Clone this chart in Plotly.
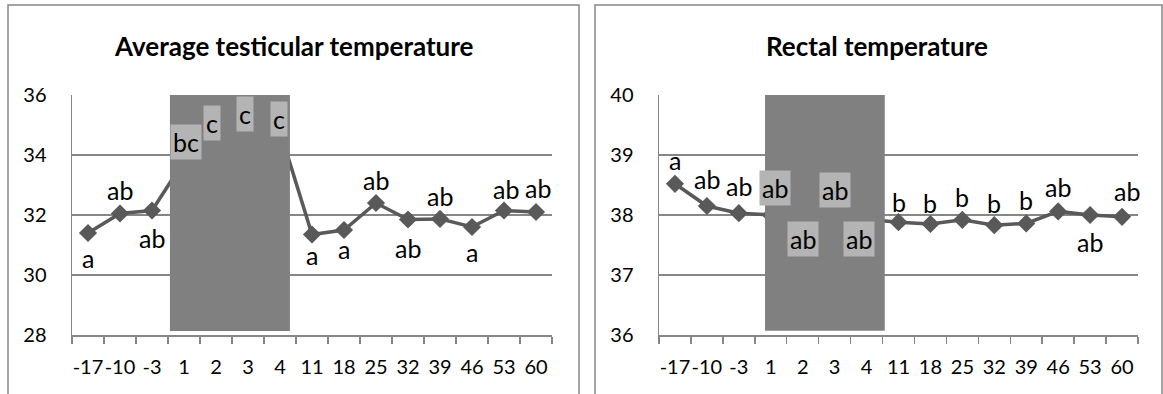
import plotly.graph_objects as go

days = ["-17", "-10", "-3", "1", "2", "3", "4", "11", "18", "25", "32", "39", "46", "53", "60"]

testis = [31.4, 32.05, 32.15, 33.8, 34.6, 34.9, 34.8, 31.35, 31.5, 32.4, 31.85, 31.87, 31.6, 32.15, 32.1]
testis_letters = ["a", "ab", "ab", "bc", "c", "c", "c", "a", "a", "ab", "ab", "ab", "a", "ab", "ab"]

rectal = [38.52, 38.15, 38.03, 38.0, 37.95, 38.05, 37.93, 37.88, 37.85, 37.92, 37.83, 37.86, 38.06, 38.0, 37.97]
rectal_letters = ["a", "ab", "ab", "ab", "ab", "ab", "ab", "b", "b", "b", "b", "b", "ab", "ab", "ab"]

# label placement (style): (xshift, yshift) in px
testis_shift = [(0, -25), (0, 24), (0, -27), (2, 19), (-4, 14), (-3, 14), (-1, 12),
                (0, -20), (0, -19), (0, 23), (0, -28), (0, 23), (0, -25), (2, 22), (2, 24)]
rectal_shift = [(0, 24), (0, 27), (0, 27), (4, 27), (0, -21), (0, 22), (-8, -20),
                (0, 20), (0, 21), (0, 23), (0, 22), (0, 23), (0, 24), (0, -27), (5, 26)]
hidden = [3, 4, 5, 6]

W, H = 1163, 394
FONT = "Lato"
LINE = "#595959"
GRID = "#868686"

idx = list(range(len(days)))

fig = go.Figure()

fig.add_trace(go.Scatter(x=days, y=testis, mode="lines+markers", xaxis="x", yaxis="y",
                         line=dict(color=LINE, width=3.5),
                         marker=dict(symbol="diamond", size=14, color=LINE),
                         showlegend=False, hoverinfo="skip"))
fig.add_trace(go.Scatter(x=days, y=rectal, mode="lines+markers", xaxis="x2", yaxis="y2",
                         line=dict(color=LINE, width=3.5),
                         marker=dict(symbol="diamond", size=14, color=LINE),
                         showlegend=False, hoverinfo="skip"))

def px_x(p):
    return p / W

def px_y(p):
    return 1 - p / H

ydom = [px_y(335), px_y(95)]
xaxis_common = dict(type="category", showgrid=False, showline=True, linecolor=GRID, linewidth=1.5,
                    ticks="outside", tickson="boundaries", ticklen=7, tickcolor=GRID, tickwidth=1.5,
                    tickfont=dict(family=FONT, size=20, color="black"), ticklabelstandoff=13,
                    tickangle=0, automargin=False,
                    range=[-0.5, 14.5], fixedrange=True, zeroline=False)
yaxis_common = dict(showgrid=True, gridcolor=GRID, gridwidth=1.5, showline=True, linecolor=GRID,
                    linewidth=1.5, ticks="", tickfont=dict(family=FONT, size=20, color="black"),
                    ticklabelstandoff=20, zeroline=False, fixedrange=True, automargin=False)

fig.update_layout(
    width=W, height=H, margin=dict(l=0, r=0, t=0, b=0, autoexpand=False),
    paper_bgcolor="white", plot_bgcolor="white",
    xaxis=dict(domain=[px_x(72), px_x(552)], anchor="y", **xaxis_common),
    yaxis=dict(domain=ydom, anchor="x", range=[28, 36], tickvals=[28, 30, 32, 34, 36], **yaxis_common),
    xaxis2=dict(domain=[px_x(659), px_x(1138)], anchor="y2", **xaxis_common),
    yaxis2=dict(domain=ydom, anchor="x2", range=[36, 40], tickvals=[36, 37, 38, 39, 40], **yaxis_common),
)

# heat-stress period blocks
fig.add_shape(type="rect", xref="x", yref="y", x0=2.56, x1=6.31, y0=28.13, y1=36,
              fillcolor="#808080", line=dict(width=0), layer="above")
fig.add_shape(type="rect", xref="x2", yref="y2", x0=2.82, x1=6.57, y0=36.07, y1=40,
              fillcolor="#808080", line=dict(width=0), layer="above")

# chart frames
fig.add_shape(type="rect", xref="paper", yref="paper", x0=px_x(8), x1=px_x(579), y0=-0.1, y1=px_y(5),
              line=dict(color=GRID, width=1.5), fillcolor="rgba(0,0,0,0)", layer="below")
fig.add_shape(type="rect", xref="paper", yref="paper", x0=px_x(595), x1=px_x(1162), y0=-0.1, y1=px_y(5),
              line=dict(color=GRID, width=1.5), fillcolor="rgba(0,0,0,0)", layer="below")

# titles
for title, cx in [("Average testicular temperature", 294), ("Rectal temperature", 877)]:
    fig.add_annotation(text="<b>" + title + "</b>", xref="paper", yref="paper",
                       x=px_x(cx), y=px_y(46), xanchor="center", yanchor="middle", showarrow=False,
                       font=dict(family=FONT, size=26, color="black"))

# significance letters
for series, letters, shifts, xr, yr in [(testis, testis_letters, testis_shift, "x", "y"),
                                         (rectal, rectal_letters, rectal_shift, "x2", "y2")]:
    for i, (v, t) in enumerate(zip(series, letters)):
        dx, dy = shifts[i]
        fig.add_annotation(x=idx[i], y=v, xref=xr, yref=yr, text=t, showarrow=False,
                           xanchor="center", yanchor="middle",
                           xshift=dx, yshift=dy,
                           font=dict(family=FONT, size=25, color="black"),
                           bgcolor="#b4b4b4" if i in hidden else "rgba(0,0,0,0)",
                           borderpad=2 if i in hidden else 0)

fig.write_html("out.html", config={"displayModeBar": False, "staticPlot": True},
               post_script="document.body.style.margin='0';document.body.style.overflow='hidden';")
